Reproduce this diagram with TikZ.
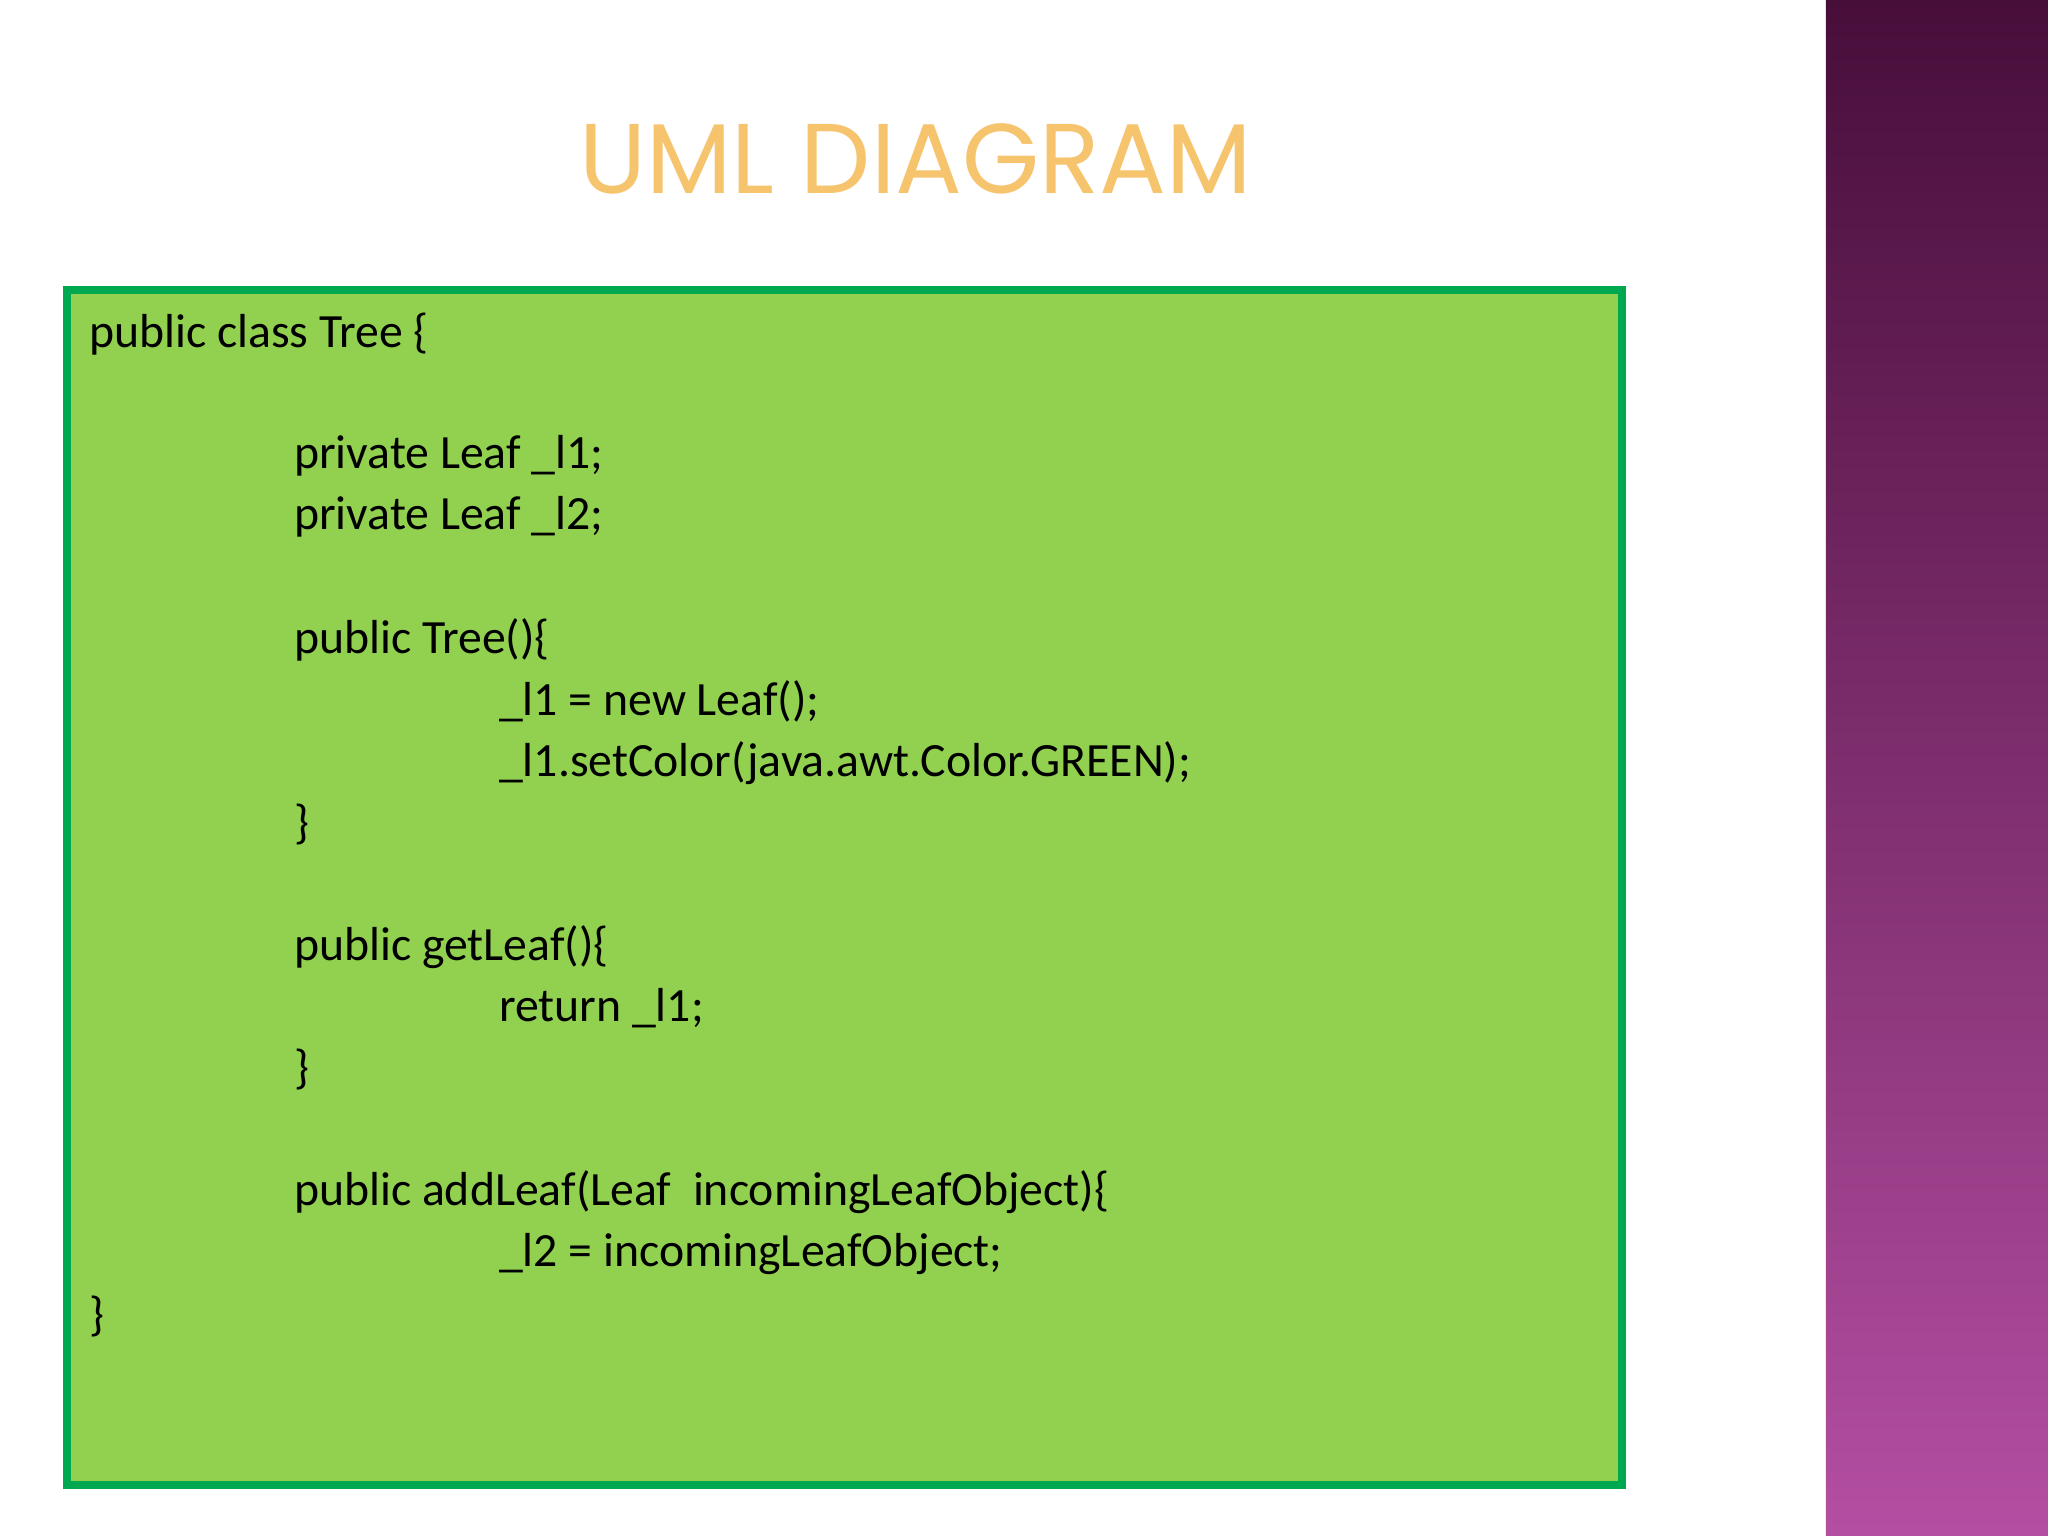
\documentclass[tikz,border=0pt]{standalone}
\usepackage{fontspec}
\setmainfont{Carlito}
\newfontfamily\titlefont{Poppins}
\begin{document}
\begin{tikzpicture}[x=0.05cm,y=-0.05cm,
  code/.style={anchor=west,inner sep=0pt,font=\fontsize{52}{60}\selectfont},
  ]
\useasboundingbox (0,0) rectangle (1568,1176);
\fill[white] (0,0) rectangle (1568,1176);
\shade[top color={rgb,255:red,72;green,14;blue,58},bottom color={rgb,255:red,180;green,78;blue,162}] (1398,0) rectangle (1568,1176);
\node (title) at (701,122) [inner sep=0pt,text={rgb,255:red,247;green,196;blue,110},font=\titlefont\fontsize{108}{110}\selectfont] {UML DIAGRAM};
\node (box) [draw={rgb,255:red,0;green,168;blue,80},line width=6*0.05cm,fill={rgb,255:red,146;green,208;blue,80},minimum width=1191*0.05cm,minimum height=915*0.05cm,inner sep=0pt] at (646.5,679.5) {};
\node[code] (a1) at (68,256) {public class Tree \{};
\node[code] (a2) at (225,349) {private Leaf \_l1;};
\node[code] (a3) at (225,396) {private Leaf \_l2;};
\node[code] (a4) at (225,490) {public Tree()\{};
\node[code] (a5) at (382,537) {\_l1 = new Leaf();};
\node[code] (a6) at (382,584) {\_l1.setColor(java.awt.Color.GREEN);};
\node[code] (a7) at (225,631) {\}};
\node[code] (a8) at (225,725) {public getLeaf()\{};
\node[code] (a9) at (382,772) {return \_l1;};
\node[code] (a10) at (225,819) {\}};
\node[code] (a11) at (225,913) {public addLeaf(Leaf\ \ incomingLeafObject)\{};
\node[code] (a12) at (382,960) {\_l2 = incomingLeafObject;};
\node[code] (a13) at (68,1008) {\}};
\end{tikzpicture}
\end{document}
